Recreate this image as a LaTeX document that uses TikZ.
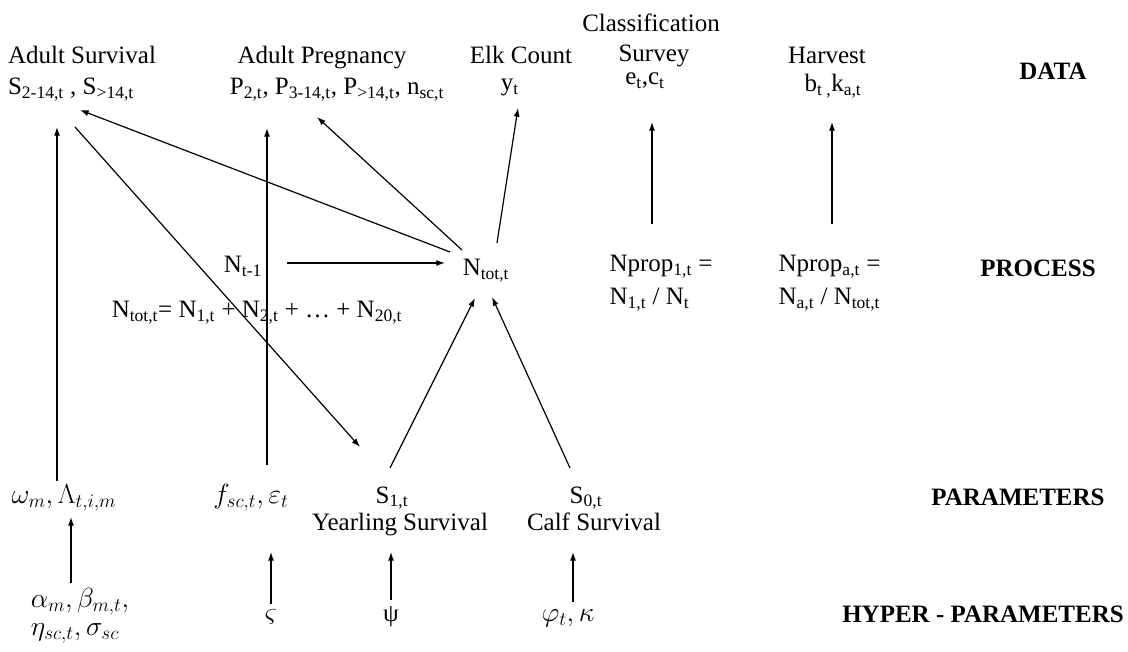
\documentclass[tikz,border=0pt]{standalone}
\usepackage{fontspec}
\setmainfont{Liberation Serif}
\usetikzlibrary{arrows.meta}

\tikzset{every picture/.style={line width=0.9pt}}
\tikzset{lbl/.style={anchor=base,inner sep=0.75pt,font=\fontsize{18.75}{22}\selectfont},
  mth/.style={lbl,font=\fontsize{20}{24}\selectfont},
  lvl/.style={lbl,font=\fontsize{18.75}{22}\selectfont\bfseries},
  arr/.style={-{Latex[length=6.5pt,width=4.5pt]}}}

\begin{document}
\begin{tikzpicture}[x=0.75pt,y=0.75pt,yscale=-1,xscale=1]
\useasboundingbox (0,0) rectangle (1128,652);

% Text Node: data
\draw (82,64) node [lbl] (survT) {Adult Survival};
\draw (71,95) node [lbl] (survD) {S\textsubscript{2-14,t} , S\textsubscript{>14,t}};
\draw (322,64) node [lbl] (pregT) {Adult Pregnancy};
\draw (337,95) node [lbl] (pregD) {P\textsubscript{2,t}, P\textsubscript{3-14,t}, P\textsubscript{>14,t}, n\textsubscript{sc,t}};
\draw (521,64) node [lbl] (countT) {Elk Count};
\draw (510,91) node [lbl] (countD) {y\textsubscript{t}};
\draw (651,32) node [lbl] (classT) {Classification};
\draw (654,62) node [lbl] (classS) {Survey};
\draw (645,85) node [lbl] (classD) {e\textsubscript{t},c\textsubscript{t}};
\draw (827,64) node [lbl] (harvT) {Harvest};
\draw (833,92) node [lbl] (harvD) {b\textsubscript{t ,}k\textsubscript{a,t}};
\draw (1053,80) node [lvl] (data) {DATA};

% Text Node: process
\draw (243,273) node [lbl] (nprev) {N\textsubscript{t-1}};
\draw (486,276) node [lbl] (ntot) {N\textsubscript{tot,t}};
\draw (257,318) node [lbl] (nsum) {N\textsubscript{tot,t}= N\textsubscript{1,t} + N\textsubscript{2,t} + \dots\ + N\textsubscript{20,t}};
\draw (608,272) node [lbl,anchor=base west] (npropA) {Nprop\textsubscript{1,t} =};
\draw (608,305) node [lbl,anchor=base west] (npropB) {N\textsubscript{1,t} / N\textsubscript{t}};
\draw (777,272) node [lbl,anchor=base west] (npropC) {Nprop\textsubscript{a,t} =};
\draw (777,305) node [lbl,anchor=base west] (npropD) {N\textsubscript{a,t} / N\textsubscript{tot,t}};
\draw (1038,277) node [lvl] (process) {PROCESS};

% Text Node: parameters
\draw (64,503) node [mth] (omega) {$\omega_m, \Lambda_{t,i,m}$};
\draw (251,503) node [mth] (fsc) {$f_{sc,t}, \varepsilon_t$};
\draw (392,503) node [lbl] (sone) {S\textsubscript{1,t}};
\draw (400,530) node [lbl] (soneT) {Yearling Survival};
\draw (586,503) node [lbl] (szero) {S\textsubscript{0,t}};
\draw (594,530) node [lbl] (szeroT) {Calf Survival};
\draw (1018,505) node [lvl] (param) {PARAMETERS};

% Text Node: hyper-parameters
\draw (80,607) node [mth] (alpha) {$\alpha_m, \beta_{m,t},$};
\draw (75,635) node [mth] (eta) {$\eta_{sc,t}, \sigma_{sc}$};
\draw (271,621) node [mth] (varsig) {$\varsigma$};
\draw (391,621) node [lbl] (psi) {ψ};
\draw (568,621) node [mth] (phi) {$\varphi_t, \kappa$};
\draw (983,622) node [lvl] (hyper) {HYPER - PARAMETERS};

% arrow ends
\coordinate (survIn) at (57,127);
\coordinate (omOut) at (57,481);
\coordinate (pregIn) at (267,128);
\coordinate (fOut) at (267,465);
\coordinate (survInB) at (80,110);
\coordinate (pregInB) at (317,117);
\coordinate (countIn) at (518,108);
\coordinate (survOut) at (75,127);
\coordinate (soneIn) at (360,447);
\coordinate (ntotA) at (450,252);
\coordinate (ntotB) at (462,250);
\coordinate (ntotC) at (497,243);
\coordinate (ntotW) at (445,263);
\coordinate (nprevE) at (287,263);
\coordinate (ntotSW) at (475,298);
\coordinate (ntotSE) at (492,297);
\coordinate (soneOut) at (390,468);
\coordinate (szeroOut) at (570,468);
\coordinate (classIn) at (652,122);
\coordinate (classOut) at (652,224);
\coordinate (harvIn) at (832,122);
\coordinate (harvOut) at (832,224);
\coordinate (omIn) at (71,517);
\coordinate (alphaOut) at (71,583);
\coordinate (fIn) at (271,552);
\coordinate (sigOut) at (271,604);
\coordinate (soneTIn) at (391,552);
\coordinate (psiOut) at (391,600);
\coordinate (szeroTIn) at (573,552);
\coordinate (phiOut) at (573,602);

%Straight Lines
\draw [arr] (omOut) -- (survIn);
\draw [arr] (fOut) -- (pregIn);
\draw [arr] (ntotA) -- (survInB);
\draw [arr] (ntotB) -- (pregInB);
\draw [arr] (ntotC) -- (countIn);
\draw [arr] (survOut) -- (soneIn);
\draw [arr] (nprevE) -- (ntotW);
\draw [arr] (soneOut) -- (ntotSW);
\draw [arr] (szeroOut) -- (ntotSE);
\draw [arr] (classOut) -- (classIn);
\draw [arr] (harvOut) -- (harvIn);
\draw [arr] (alphaOut) -- (omIn);
\draw [arr] (sigOut) -- (fIn);
\draw [arr] (psiOut) -- (soneTIn);
\draw [arr] (phiOut) -- (szeroTIn);

\end{tikzpicture}
\end{document}
